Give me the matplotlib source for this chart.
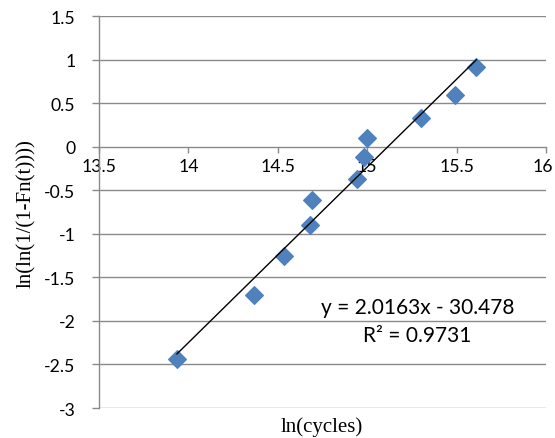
import matplotlib
matplotlib.use("Agg")
import matplotlib.pyplot as plt
import matplotlib.transforms as mtransforms
import numpy as np

x_vals = [13.936, 14.367, 14.535, 14.68, 14.69, 14.945, 14.98, 14.997, 15.30, 15.49, 15.61]
y_vals = [-2.44, -1.70, -1.25, -0.90, -0.61, -0.37, -0.12, 0.10, 0.33, 0.59, 0.915]
slope = 2.0163
intercept = -30.478
r2 = 0.9731
x_ticks = [13.5, 14, 14.5, 15, 15.5, 16]
x_tick_labels = ["13.5", "14", "14.5", "15", "15.5", "16"]
y_ticks = [-3, -2.5, -2, -1.5, -1, -0.5, 0, 0.5, 1, 1.5]
y_tick_labels = ["-3", "-2.5", "-2", "-1.5", "-1", "-0.5", "0", "0.5", "1", "1.5"]

fig = plt.figure(figsize=(5.55, 4.39), dpi=100)
renderer = fig.canvas.get_renderer()


def fit_size(text, family, target_px, base=10.0):
    t = fig.text(0, 0, text, fontfamily=family, fontsize=base)
    w = t.get_window_extent(renderer).width
    t.remove()
    return base * target_px / w


sans = "Lato"
serif = "Liberation Serif"
tick_fs = 0.5 * (fit_size("1.5", sans, 25.0) + fit_size("-2.5", sans, 31.0))
eq_fs = fit_size("y = 2.0163x - 30.478", sans, 192.0)
lab_fs = 0.5 * (fit_size("ln(cycles)", serif, 83.0) + fit_size("ln(ln(1/(1-Fn(t))))", serif, 148.0))

ax = fig.add_axes([99 / 555, 1 - 409 / 439, (546 - 99) / 555, (409 - 17) / 439])
ax.set_xlim(13.5, 16)
ax.set_ylim(-3, 1.5)

grid_c = "#8a8a8a"
for yv in y_ticks:
    if yv != 0:
        ax.axhline(yv, color=grid_c, lw=1.0, zorder=1)

for s in ["top", "right"]:
    ax.spines[s].set_visible(False)
ax.spines["left"].set_color(grid_c)
ax.spines["left"].set_linewidth(1.0)
ax.spines["bottom"].set_position(("data", 0))
ax.spines["bottom"].set_color(grid_c)
ax.spines["bottom"].set_linewidth(1.0)

ax.set_xticks(x_ticks)
ax.set_xticklabels(x_tick_labels, fontfamily=sans, fontsize=tick_fs)
ax.set_yticks(y_ticks)
ax.set_yticklabels(y_tick_labels, fontfamily=sans, fontsize=tick_fs)
ax.tick_params(axis="y", color=grid_c, length=5, width=1.0, direction="out", pad=12)
ax.tick_params(axis="x", color=grid_c, length=4, width=1.0, direction="out", pad=4)

last = ax.get_xticklabels()[-1]
last.set_transform(last.get_transform() +
                   mtransforms.ScaledTranslation(-3 / 100, 0, fig.dpi_scale_trans))

ax.plot(x_vals, y_vals, linestyle="none", marker="D", markersize=9.5,
        markeredgewidth=0.8, color="#4f81bd", markeredgecolor="#4f81bd", zorder=3)

xl = np.array([min(x_vals), max(x_vals)])
ax.plot(xl, slope * xl + intercept, color="black", lw=1.0, zorder=4)

ax.text(15.281, -1.909, f"y = {slope}x - {abs(intercept)}", fontfamily=sans,
        fontsize=eq_fs, ha="center", va="baseline", zorder=5)
ax.text(15.281, -2.235, f"R² = {r2}", fontfamily=sans,
        fontsize=eq_fs, ha="center", va="baseline", zorder=5)

fig.text(321.5 / 555, 1 - 431.7 / 439, "ln(cycles)", fontfamily=serif, fontsize=lab_fs,
         ha="center", va="baseline")
fig.text(26 / 555, 1 - 214 / 439, "ln(ln(1/(1-Fn(t))))", fontfamily=serif,
         fontsize=lab_fs, ha="center", va="center", rotation=90)

fig.savefig("out.png", dpi=100)
